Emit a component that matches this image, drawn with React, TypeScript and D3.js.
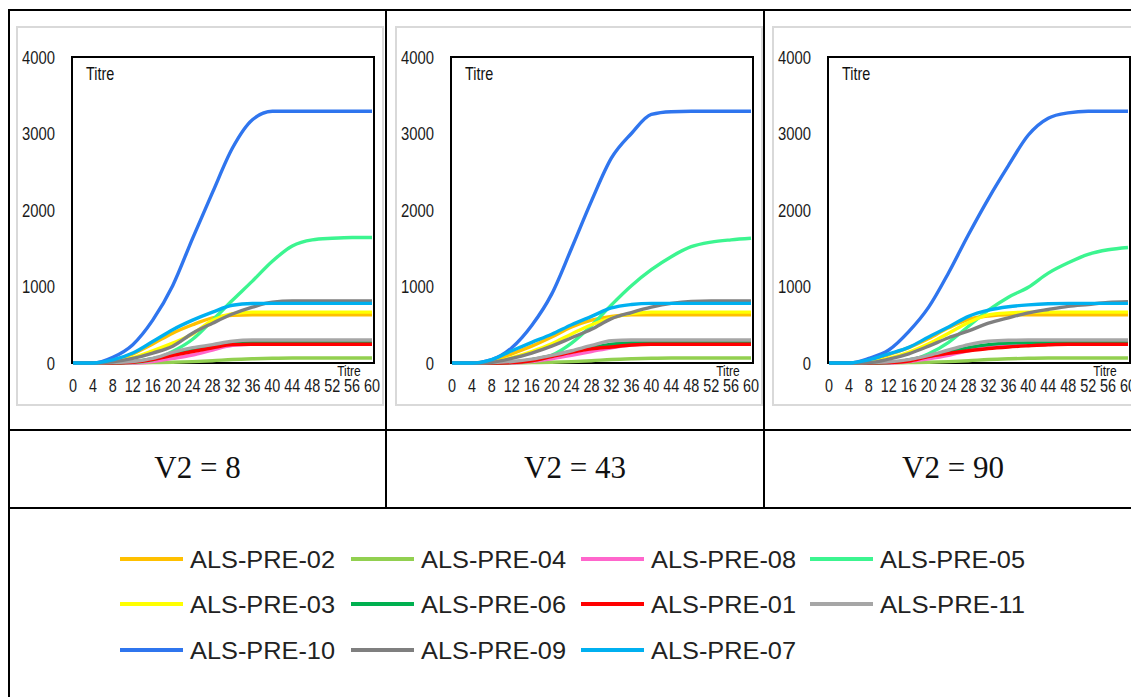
import React from "react";
import * as d3 from "d3";

const times = [0, 4, 8, 12, 16, 20, 24, 28, 32, 36, 40, 44, 48, 52, 56, 60];
const xTicks = [0, 4, 8, 12, 16, 20, 24, 28, 32, 36, 40, 44, 48, 52, 56, 60];
const yTicks = [0, 1000, 2000, 3000, 4000];

const seriesNames = [
  "ALS-PRE-02", "ALS-PRE-04", "ALS-PRE-08", "ALS-PRE-05",
  "ALS-PRE-03", "ALS-PRE-06", "ALS-PRE-01", "ALS-PRE-11",
  "ALS-PRE-10", "ALS-PRE-09", "ALS-PRE-07",
];
const seriesColors = [
  "#FFC000", "#92D050", "#FF66CC", "#3CF590",
  "#FFFF00", "#00B050", "#FF0000", "#A6A6A6",
  "#2F75EE", "#7F7F7F", "#00B0F0",
];
const panelLabels = ["V2 = 8", "V2 = 43", "V2 = 90"];

// values per series (same order as seriesNames), at each time in `times`
const panelV8 = [
  [0, 0, 30, 120, 250, 390, 500, 590, 625, 630, 630, 630, 630, 630, 630, 630],
  [0, 0, 0, 2, 5, 10, 18, 30, 45, 55, 62, 65, 65, 65, 65, 65],
  [0, 0, 0, 0, 20, 60, 105, 170, 230, 245, 250, 250, 250, 250, 250, 250],
  [0, 0, 0, 5, 40, 150, 310, 560, 820, 1070, 1330, 1530, 1610, 1630, 1640, 1640],
  [0, 0, 15, 70, 160, 260, 380, 560, 645, 665, 665, 665, 665, 665, 665, 665],
  [0, 0, 0, 15, 55, 110, 165, 215, 260, 270, 270, 270, 270, 270, 270, 270],
  [0, 0, 0, 10, 45, 100, 150, 200, 240, 245, 245, 245, 245, 245, 245, 245],
  [0, 0, 5, 20, 60, 140, 200, 240, 285, 300, 300, 300, 300, 300, 300, 300],
  [0, 0, 75, 240, 560, 1010, 1630, 2230, 2810, 3180, 3290, 3290, 3290, 3290, 3290, 3290],
  [0, 0, 15, 60, 130, 220, 390, 520, 640, 730, 795, 810, 810, 810, 810, 810],
  [0, 0, 40, 130, 280, 435, 560, 665, 755, 778, 780, 780, 780, 780, 780, 780],
];
const panelV43 = [
  [0, 0, 30, 120, 220, 340, 470, 560, 610, 630, 630, 630, 630, 630, 630, 630],
  [0, 0, 0, 2, 5, 10, 18, 30, 45, 55, 62, 65, 65, 65, 65, 65],
  [0, 0, 0, 0, 20, 55, 100, 150, 200, 235, 250, 250, 250, 250, 250, 250],
  [0, 0, 0, 5, 30, 100, 260, 490, 760, 1010, 1220, 1390, 1520, 1580, 1610, 1630],
  [0, 0, 10, 70, 150, 250, 380, 500, 590, 645, 665, 665, 665, 665, 665, 665],
  [0, 0, 0, 10, 45, 95, 150, 200, 245, 265, 270, 270, 270, 270, 270, 270],
  [0, 0, 0, 5, 30, 85, 140, 185, 210, 235, 245, 245, 245, 245, 245, 245],
  [0, 0, 5, 20, 50, 100, 160, 230, 290, 300, 300, 300, 300, 300, 300, 300],
  [0, 0, 45, 200, 490, 900, 1500, 2120, 2680, 3000, 3250, 3285, 3290, 3290, 3290, 3290],
  [0, 0, 10, 60, 130, 220, 330, 440, 580, 660, 730, 780, 805, 810, 810, 810],
  [0, 0, 45, 160, 270, 375, 500, 610, 720, 765, 780, 780, 780, 780, 780, 780],
];
const panelV90 = [
  [0, 0, 30, 110, 200, 320, 460, 570, 615, 630, 630, 630, 630, 630, 630, 630],
  [0, 0, 0, 2, 5, 10, 18, 30, 45, 55, 62, 65, 65, 65, 65, 65],
  [0, 0, 0, 0, 20, 55, 100, 160, 215, 245, 255, 255, 255, 255, 255, 255],
  [0, 0, 0, 5, 30, 120, 270, 480, 690, 860, 990, 1175, 1310, 1420, 1480, 1510],
  [0, 0, 10, 60, 140, 250, 390, 530, 630, 655, 665, 665, 665, 665, 665, 665],
  [0, 0, 0, 5, 40, 90, 140, 200, 240, 260, 265, 270, 270, 270, 270, 270],
  [0, 0, 0, 5, 25, 85, 125, 160, 190, 210, 225, 238, 245, 245, 245, 245],
  [0, 0, 5, 15, 45, 100, 170, 240, 285, 298, 300, 300, 300, 300, 300, 300],
  [0, 0, 60, 170, 410, 730, 1180, 1680, 2150, 2580, 2980, 3200, 3270, 3290, 3290, 3290],
  [0, 0, 5, 50, 120, 220, 330, 420, 520, 590, 655, 700, 740, 765, 790, 800],
  [0, 0, 40, 120, 205, 340, 470, 610, 690, 735, 760, 775, 780, 780, 780, 780],
];
const panels = [panelV8, panelV43, panelV90];

const legendRowSizes = [4, 4, 3];

// layout
const cellX = [9, 386, 764];
const frameX = [17, 396, 773];
const FONT = "'Liberation Sans', Arial, sans-serif";

function Panel({ data, fx }: { data: number[][]; fx: number }) {
  const left = 55, right = 357, top = 57, bottom = 363;
  const x = d3.scaleLinear().domain([0, 60]).range([left + 1, right - 2]);
  const y = d3.scaleLinear().domain([0, 4000]).range([bottom, top]);
  const line = d3
    .line<number>()
    .x((_, i) => x(times[i]))
    .y((d) => y(d))
    .curve(d3.curveMonotoneX);
  return (
    <g transform={`translate(${fx},0)`}>
      <rect x={0} y={27} width={366} height={378} fill="#fff" stroke="#D9D9D9" strokeWidth={2} />
      <rect x={left} y={top} width={right - left} height={bottom - top} fill="#fff" stroke="#000" strokeWidth={2} />
      {data.map((s, i) => (
        <path key={i} d={line(s) || ""} fill="none" stroke={seriesColors[i]} strokeWidth={3.4} strokeLinejoin="round" />
      ))}
      {yTicks.map((t) => (
        <text key={t} transform={`translate(${left - 17},${y(t)}) scale(0.78,1)`} textAnchor="end" dy="0.36em" fontFamily={FONT} fontSize={19} fill="#1a1a1a">
          {t}
        </text>
      ))}
      {xTicks.map((t) => (
        <text key={t} transform={`translate(${x(t)},${392}) scale(0.8,1)`} textAnchor="middle" fontFamily={FONT} fontSize={18} fill="#1a1a1a">
          {t}
        </text>
      ))}
      <text transform={`translate(${left + 14},${80}) scale(0.8,1)`} fontFamily={FONT} fontSize={18} fill="#111">Titre</text>
      <text transform={`translate(${right - 25},${376}) scale(0.86,1)`} textAnchor="middle" fontFamily={FONT} fontSize={14} fill="#111">Titre</text>
    </g>
  );
}

export default function App() {
  const legendItems: { name: string; color: string; row: number; col: number }[] = [];
  let k = 0;
  legendRowSizes.forEach((n, r) => {
    for (let c = 0; c < n; c++) {
      legendItems.push({ name: seriesNames[k], color: seriesColors[k], row: r, col: c });
      k++;
    }
  });
  const legendRowY = [559, 604, 650];
  const legendColX = [120, 351, 581, 810];

  return (
    <svg width={1131} height={697} style={{ position: "absolute", left: 0, top: 0, background: "#fff" }}>
      <rect x={0} y={0} width={1131} height={697} fill="#fff" />
      {panels.map((p, i) => (
        <Panel key={i} data={p} fx={frameX[i]} />
      ))}
      {panelLabels.map((l, i) => {
        const x0 = cellX[i];
        const x1 = i < 2 ? cellX[i + 1] : 1142;
        return (
          <text key={l} x={(x0 + x1) / 2} y={478} textAnchor="middle" fontFamily="'Liberation Serif', 'Times New Roman', serif" fontSize={31} fill="#111">
            {l}
          </text>
        );
      })}
      {/* table lines */}
      <g stroke="#000" strokeWidth={2}>
        <line x1={9} y1={10} x2={1131} y2={10} />
        <line x1={9} y1={430} x2={1131} y2={430} />
        <line x1={9} y1={508} x2={1131} y2={508} />
        <line x1={9} y1={9} x2={9} y2={697} />
        <line x1={386} y1={9} x2={386} y2={508} />
        <line x1={764} y1={9} x2={764} y2={508} />
      </g>
      {legendItems.map((it) => {
        const lx = legendColX[it.col];
        const ly = legendRowY[it.row];
        return (
          <g key={it.name}>
            <line x1={lx} y1={ly} x2={lx + 63} y2={ly} stroke={it.color} strokeWidth={4} />
            <text x={lx + 70} y={ly} dy="0.36em" fontFamily={FONT} fontSize={24} fill="#222" textLength={145} lengthAdjust="spacingAndGlyphs">
              {it.name}
            </text>
          </g>
        );
      })}
    </svg>
  );
}
